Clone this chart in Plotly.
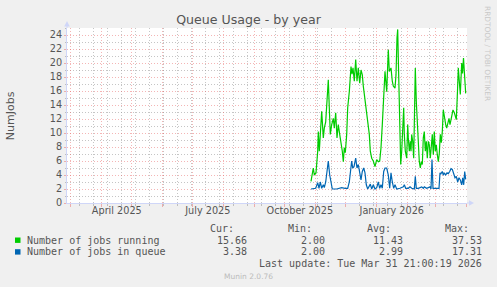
import plotly.graph_objects as go
import pandas as pd

# ---------------- data ----------------
BASE_DATE = "2025-03-01"   # day offsets below are days since this date

run_day = [240.7, 243.0, 244.0, 245.7, 247.4, 248.0, 249.0, 250.7, 251.4, 253.0,
           254.0, 255.4, 256.7, 258.0, 259.0, 260.0, 261.4, 263.0, 264.0, 265.4,
           266.7, 268.0, 269.4, 270.7, 272.0, 273.0, 274.0, 275.0, 276.4, 277.4,
           279.0, 280.7, 281.7, 282.7, 284.0, 285.4, 286.7, 288.0, 289.4, 290.7,
           292.0, 293.0, 294.7, 296.0, 297.4, 298.0, 299.0, 300.0, 301.4, 303.0,
           304.7, 306.4, 308.0, 309.4, 310.7, 312.0, 313.0, 314.0, 314.7, 316.4,
           318.0, 319.0, 320.7, 322.0, 323.0, 324.7, 325.7, 326.7, 327.4, 328.0,
           329.0, 329.7, 330.4, 331.4, 332.4, 333.4, 334.0, 335.0, 336.4, 337.4,
           338.0, 339.0, 340.0, 340.7, 341.4, 342.4, 343.4, 344.4, 345.0, 346.0,
           347.0, 348.0, 349.0, 350.0, 351.0, 352.0, 353.0, 354.0, 355.0, 356.0,
           357.0, 358.0, 359.0, 360.0, 361.0, 362.0, 363.0, 364.0, 365.0, 366.0,
           367.0, 368.0, 369.0, 370.0, 371.0, 372.0, 373.0, 374.0, 375.4, 376.4,
           377.7, 378.7, 379.7, 380.7, 381.7, 382.7, 384.0, 385.0, 386.0, 387.2,
           388.0, 389.2, 390.0, 391.4, 392.2, 393.2, 395.4]
run_val = [3.1, 5.0, 4.0, 4.3, 7.4, 10.2, 7.4, 11.2, 13.1, 9.3,
           10.7, 11.6, 14.0, 17.6, 13.6, 9.8, 11.2, 12.1, 10.7, 12.9,
           9.3, 11.2, 9.8, 8.8, 7.4, 5.9, 7.9, 7.2, 9.8, 13.6,
           15.9, 19.5, 18.4, 19.3, 17.4, 20.5, 17.4, 19.3, 17.1, 19.0,
           18.3, 16.7, 14.5, 12.9, 11.6, 10.5, 9.8, 7.4, 6.4, 6.0,
           5.2, 6.2, 5.9, 6.0, 7.9, 11.2, 13.6, 15.7, 18.8, 15.9,
           21.9, 18.8, 19.3, 17.4, 16.7, 16.4, 18.3, 23.6, 24.8, 20.7,
           14.5, 8.8, 5.5, 7.4, 10.2, 13.6, 9.8, 7.4, 6.4, 11.2,
           9.3, 7.4, 8.8, 7.4, 9.8, 8.8, 6.4, 14.5, 19.3, 14.5,
           11.2, 7.4, 5.9, 5.0, 5.9, 5.5, 9.3, 10.2, 7.4, 8.8,
           6.4, 8.8, 8.3, 6.4, 8.3, 9.8, 6.9, 10.2, 7.4, 8.3,
           6.9, 5.9, 7.1, 9.8, 8.6, 10.2, 13.3, 12.1, 11.2, 10.7,
           11.6, 12.1, 11.2, 12.1, 12.6, 13.3, 12.9, 12.4, 11.9, 16.0,
           19.3, 17.0, 15.5, 20.0, 18.5, 20.7, 15.66]

queue_day = [240.7, 245.4, 247.4, 248.7, 250.0, 251.4, 253.0, 254.0, 255.4, 256.4,
             258.0, 259.4, 260.7, 262.0, 266.4, 271.4, 274.7, 277.4, 279.0, 280.4,
             281.4, 282.4, 283.7, 285.4, 286.7, 288.0, 289.4, 290.7, 292.0, 293.4,
             294.7, 296.0, 297.4, 300.0, 301.4, 303.0, 304.7, 306.4, 308.0, 309.4,
             310.7, 312.0, 313.4, 314.7, 316.4, 318.0, 319.4, 320.7, 322.0, 323.4,
             324.7, 326.4, 329.7, 333.0, 334.0, 335.4, 338.0, 339.7, 341.4, 344.0,
             345.0, 346.0, 348.0, 351.4, 353.0, 354.0, 356.4, 359.7, 360.7, 361.7,
             362.7, 364.7, 367.4, 368.7, 369.7, 370.7, 372.0, 373.0, 374.0, 375.4,
             376.7, 378.0, 379.4, 380.7, 382.0, 383.4, 384.7, 386.0, 387.4, 388.7,
             390.0, 391.4, 392.4, 393.4, 394.4, 395.4]
queue_val = [2.0, 2.1, 2.9, 2.1, 3.0, 2.1, 2.6, 2.2, 3.0, 4.5,
             6.0, 4.0, 2.6, 2.0, 2.0, 2.2, 2.1, 2.1, 3.0, 4.5,
             6.0, 5.0, 5.2, 6.4, 5.0, 5.5, 4.5, 3.3, 4.5, 5.0,
             4.3, 2.6, 2.0, 2.7, 2.0, 2.6, 2.0, 2.2, 3.0, 2.1,
             2.6, 2.1, 4.5, 5.0, 5.0, 4.0, 2.1, 4.3, 3.0, 2.1,
             2.6, 2.0, 2.1, 2.3, 2.6, 2.1, 2.1, 2.3, 2.1, 2.0,
             3.8, 2.1, 2.1, 2.3, 2.1, 2.3, 2.1, 2.3, 2.0, 6.2,
             2.1, 2.1, 2.2, 2.1, 4.3, 4.2, 4.5, 4.0, 4.3, 4.0,
             4.3, 4.2, 4.5, 4.9, 4.8, 4.0, 3.6, 3.8, 3.0, 3.6,
             3.3, 2.6, 3.6, 2.6, 4.5, 3.38]

series_names = ["Number of jobs running", "Number of jobs in queue"]
series_colors = ["#00CC00", "#0066B3"]
stat_headers = ["Cur:", "Min:", "Avg:", "Max:"]
stats_running = ["15.66", "2.00", "11.43", "37.53"]
stats_queue = ["3.38", "2.00", "2.99", "17.31"]

x_range = ["2025-02-25 16:48", "2026-04-01 16:48"]
label_dates = ["2025-04-16 12:00", "2025-07-16 12:00", "2025-10-16 12:00", "2026-01-16 12:00"]
label_text = ["April 2025", "July 2025", "October 2025", "January 2026"]
y_max = 25

base = pd.Timestamp(BASE_DATE)
run_x = base + pd.to_timedelta(run_day, unit="D")
queue_x = base + pd.to_timedelta(queue_day, unit="D")

# ---------------- geometry helpers ----------------
W, H = 497, 287
L, R, T, B = 67, 467, 28, 203


def px(x):
    return (x - L) / (R - L)


def py(y):
    return (B - y) / (B - T)


TXT = "#555555"
MGRID = "rgba(230,90,90,0.45)"
GRID = "rgba(150,150,150,0.55)"
AXIS = "#CFD6F8"

fig = go.Figure()
fig.add_trace(go.Scatter(x=run_x, y=run_val, mode="lines",
                         line=dict(color=series_colors[0], width=1.2),
                         name=series_names[0], showlegend=False, xaxis="x"))
fig.add_trace(go.Scatter(x=queue_x, y=queue_val, mode="lines",
                         line=dict(color=series_colors[1], width=1.2),
                         name=series_names[1], showlegend=False, xaxis="x2"))

fig.update_layout(
    width=W, height=H,
    margin=dict(l=L, r=W - R, t=T, b=H - B, pad=0),
    paper_bgcolor="#F0F0F0", plot_bgcolor="#FFFFFF",
    font=dict(family="DejaVu Sans", color=TXT, size=10),
    title=dict(text="Queue Usage - by year", x=0.5, xref="container", xanchor="center",
               y=1 - 19.3 / H, yref="container", yanchor="middle",
               font=dict(size=12.6, color=TXT, family="DejaVu Sans")),
    xaxis=dict(type="date", range=x_range, dtick="M1", tick0="2025-03-01",
               showticklabels=False, showgrid=True, gridcolor=MGRID, griddash="1px,2px",
               gridwidth=1, ticks="outside", ticklen=3, tickcolor=MGRID,
               showline=True, linecolor=AXIS, linewidth=1, zeroline=False,
               minor=dict(dtick=14 * 86400000, tick0="2025-03-10", showgrid=True,
                          gridcolor=GRID, griddash="1px,2px", gridwidth=1,
                          ticks="outside", ticklen=2, tickcolor=GRID)),
    xaxis2=dict(type="date", overlaying="x", matches="x", side="bottom", anchor="y",
                tickmode="array", tickvals=label_dates, ticktext=label_text,
                ticks="", showgrid=False, showline=False, zeroline=False,
                tickfont=dict(size=9.7, color=TXT, family="DejaVu Sans")),
    yaxis=dict(range=[0, y_max], dtick=2, tick0=0, showgrid=True, gridcolor=MGRID,
               griddash="1px,2px", ticks="outside", ticklen=2, tickcolor=MGRID,
               showline=True, linecolor=AXIS, linewidth=1, zeroline=False,
               tickfont=dict(size=9.7, color=TXT, family="DejaVu Sans"),
               minor=dict(dtick=2, tick0=1, showgrid=True, gridcolor=GRID,
                          griddash="1px,2px", ticks="outside", ticklen=1, tickcolor=GRID)),
)

shapes = []
# axis extensions and arrows
shapes.append(dict(type="line", xref="paper", yref="paper", x0=px(R), x1=px(470), y0=0, y1=0,
                   line=dict(color=AXIS, width=1)))
shapes.append(dict(type="path", xref="paper", yref="paper", fillcolor=AXIS, line=dict(width=0),
                   path=f"M {px(469)},{py(B-2.8)} L {px(474)},{py(B)} L {px(469)},{py(B+2.8)} Z"))
shapes.append(dict(type="line", xref="paper", yref="paper", x0=0, x1=0, y0=1, y1=py(24),
                   line=dict(color=AXIS, width=1)))
shapes.append(dict(type="path", xref="paper", yref="paper", fillcolor=AXIS, line=dict(width=0),
                   path=f"M {px(L-2.8)},{py(26.5)} L {px(L)},{py(21)} L {px(L+2.8)},{py(26.5)} Z"))
# legend squares
for i, c in enumerate(series_colors):
    yc = 240.2 + i * 11.7
    shapes.append(dict(type="rect", xref="paper", yref="paper",
                       x0=px(15), x1=px(20.5), y0=py(yc - 2.7), y1=py(yc + 2.7),
                       fillcolor=c, line=dict(width=0)))
fig.update_layout(shapes=shapes)

MONO = "DejaVu Sans Mono"
anns = []


def ann(text, x, y, xanchor="left", size=10, family=MONO, color=TXT, angle=0):
    anns.append(dict(text=text, x=px(x), y=py(y), xref="paper", yref="paper",
                     xanchor=xanchor, yanchor="middle", showarrow=False, textangle=angle,
                     font=dict(size=size, family=family, color=color), borderpad=0))


ann("NumJobs", 10.7, 115.5, xanchor="center", size=11, family="DejaVu Sans", angle=-90)
ann("RRDTOOL / TOBI OETIKER", 487.5, 53.5, xanchor="center", size=7.4,
    family="DejaVu Sans", color="#C8C8C8", angle=90)

header_right = [235, 313.3, 391.7, 470]
value_right = [248.3, 326, 404.3, 482.7]
for h, xr in zip(stat_headers, header_right):
    ann(h, xr, 228.3, xanchor="right")
for i, (name, stats) in enumerate(zip(series_names, [stats_running, stats_queue])):
    yc = 240.2 + i * 11.7
    ann(name, 26, yc)
    for v, xr in zip(stats, value_right):
        ann(v, xr, yc, xanchor="right")
ann("Last update: Tue Mar 31 21:00:19 2026", 482.7, 263.3, xanchor="right")
ann("Munin 2.0.76", 248, 276.7, xanchor="center", size=7.5, family="DejaVu Sans",
    color="#BBBBBB")
fig.update_layout(annotations=anns)

fig.write_html("out.html")
